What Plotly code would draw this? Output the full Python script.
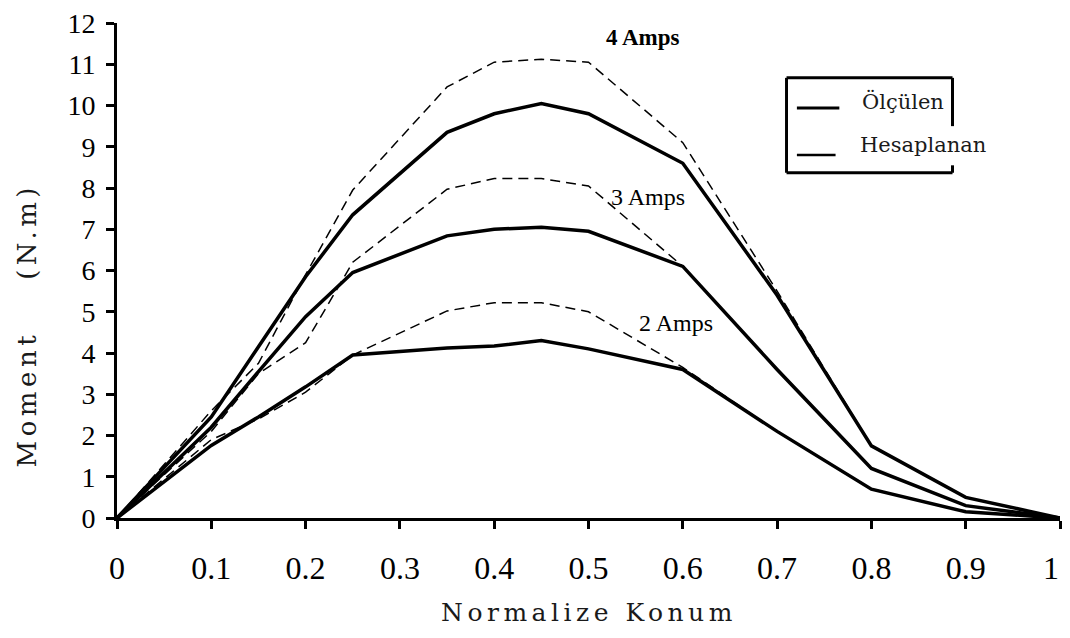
import plotly.graph_objects as go

# ---- data ----
konum = [0, 0.1, 0.15, 0.2, 0.25, 0.35, 0.4, 0.45, 0.5, 0.6, 0.7, 0.8, 0.9, 1.0]

olculen_4 = [0, 2.45, 4.15, 5.85, 7.35, 9.35, 9.8, 10.05, 9.8, 8.6, 5.4, 1.75, 0.5, 0]
hesap_4 = [0, 2.6, 3.75, 5.9, 7.95, 10.45, 11.05, 11.12, 11.05, 9.1, 5.5, 1.75, 0.5, 0]
olculen_3 = [0, 2.2, 3.55, 4.88, 5.95, 6.84, 7.0, 7.05, 6.95, 6.1, 3.6, 1.2, 0.3, 0]
hesap_3 = [0, 2.1, 3.5, 4.25, 6.2, 7.97, 8.23, 8.23, 8.05, 6.1, 3.6, 1.2, 0.3, 0]
olculen_2 = [0, 1.76, 2.45, 3.18, 3.95, 4.12, 4.17, 4.3, 4.1, 3.6, 2.1, 0.7, 0.15, 0]
hesap_2 = [0, 1.9, 2.4, 3.05, 3.95, 5.02, 5.22, 5.22, 5.0, 3.65, 2.1, 0.7, 0.15, 0]

x_ticks = [0, 0.1, 0.2, 0.3, 0.4, 0.5, 0.6, 0.7, 0.8, 0.9, 1]
x_tick_labels = ["0", "0.1", "0.2", "0.3", "0.4", "0.5", "0.6", "0.7", "0.8", "0.9", "1"]
y_ticks = list(range(0, 13))

amp_labels = ["4 Amps", "3 Amps", "2 Amps"]
amp_label_x = [0.558, 0.563, 0.593]
amp_label_y = [11.64, 7.79, 4.73]

SERIF = "Liberation Serif"
WIDE = "DejaVu Serif"

fig = go.Figure()

for name, vals in [("Ölçülen 2A", olculen_2), ("Ölçülen 3A", olculen_3), ("Ölçülen 4A", olculen_4)]:
    fig.add_trace(go.Scatter(x=konum, y=vals, mode="lines", name=name, showlegend=False,
                             line=dict(color="black", width=3.5)))
for name, vals in [("Hesaplanan 2A", hesap_2), ("Hesaplanan 3A", hesap_3), ("Hesaplanan 4A", hesap_4)]:
    fig.add_trace(go.Scatter(x=konum, y=vals, mode="lines", name=name, showlegend=False,
                             line=dict(color="black", width=1.5, dash="10px,6px")))

# amp labels
for t, ax, ay in zip(amp_labels, amp_label_x, amp_label_y):
    bold = t.startswith("4")
    fig.add_annotation(x=ax, y=ay, xref="x", yref="y", text=t, showarrow=False,
                       font=dict(family=SERIF, size=23 if bold else 24, color="black",
                                 weight="bold" if bold else "normal"))

# axis titles
fig.add_annotation(x=0.501, y=-0.225, xref="paper", yref="paper",
                   text='<span style="letter-spacing:4.5px">Normalize Konum</span>',
                   showarrow=False, font=dict(family=WIDE, size=25, color="#1a1a1a"))
fig.add_annotation(x=-0.096, y=0.39, xref="paper", yref="paper", xanchor="center",
                   text='<span style="letter-spacing:4.5px">Moment\u00a0\u00a0\u00a0\u00a0(N.m)</span>',
                   textangle=-90, showarrow=False, font=dict(family=WIDE, size=26, color="#1a1a1a"))

# manual legend
lx0, lx1, ly0, ly1 = 0.710, 0.886, 8.37, 10.67
box = dict(type="line", xref="x", yref="y", line=dict(color="black", width=3))
fig.add_shape(**box, x0=lx0, x1=lx1, y0=ly1, y1=ly1)
fig.add_shape(**box, x0=lx0, x1=lx1, y0=ly0, y1=ly0)
fig.add_shape(**box, x0=lx0, x1=lx0, y0=ly0, y1=ly1)
fig.add_shape(**box, x0=lx1, x1=lx1, y0=9.5, y1=ly1)
fig.add_shape(**box, x0=lx1, x1=lx1, y0=ly0, y1=8.55)
fig.add_shape(type="line", xref="x", yref="y", x0=0.721, x1=0.766, y0=9.94, y1=9.94,
              line=dict(color="black", width=3))
fig.add_shape(type="line", xref="x", yref="y", x0=0.721, x1=0.762, y0=8.80, y1=8.80,
              line=dict(color="black", width=2.5))
fig.add_annotation(x=0.788, y=10.09, xref="x", yref="y", text="Ölçülen", showarrow=False,
                   xanchor="left", font=dict(family=WIDE, size=21, color="#1a1a1a"))
fig.add_annotation(x=0.786, y=9.05, xref="x", yref="y", text="Hesaplanan", showarrow=False,
                   xanchor="left", font=dict(family=WIDE, size=21, color="#1a1a1a"))

# the last x tick label sits at the page edge: draw it right-anchored on its tick
xtickfont = dict(family=SERIF, size=32, color="black")
fig.add_annotation(x=x_ticks[-1], y=-0.1003, xref="x", yref="paper", text=x_tick_labels[-1],
                   showarrow=False, xanchor="right", yanchor="middle", xshift=1,
                   font=xtickfont)

fig.update_layout(
    width=1054, height=622,
    margin=dict(l=109, r=2, t=15, b=112),
    paper_bgcolor="white", plot_bgcolor="white",
    showlegend=False,
    xaxis=dict(range=[0, 1], tickvals=x_ticks, ticktext=x_tick_labels[:-1] + [""], showgrid=False,
               zeroline=False, showline=True, linecolor="black", linewidth=3,
               ticks="outside", ticklen=8, tickwidth=2.5, tickcolor="black",
               tickfont=xtickfont, ticklabelstandoff=12,
               fixedrange=True, ticklabeloverflow="allow", automargin=False),
    yaxis=dict(range=[0, 12], tickvals=y_ticks, showgrid=False,
               zeroline=False, showline=True, linecolor="black", linewidth=3,
               ticks="outside", ticklen=8, tickwidth=2.5, tickcolor="black",
               tickfont=dict(family=SERIF, size=28, color="black"), ticklabelstandoff=5,
               fixedrange=True, ticklabeloverflow="allow", automargin=False),
    xaxis2=dict(range=[0, 1], overlaying="x", anchor="y2", side="bottom", tickvals=x_ticks,
                showticklabels=False, showgrid=False, zeroline=False, showline=False,
                ticks="inside", ticklen=6, tickwidth=2.5, tickcolor="black", automargin=False),
    yaxis2=dict(range=[0, 12], overlaying="y", anchor="x2", side="left", tickvals=y_ticks,
                showticklabels=False, showgrid=False, zeroline=False, showline=False,
                ticks="inside", ticklen=6, tickwidth=2.5, tickcolor="black", automargin=False),
)

fig.write_html("out.html")
